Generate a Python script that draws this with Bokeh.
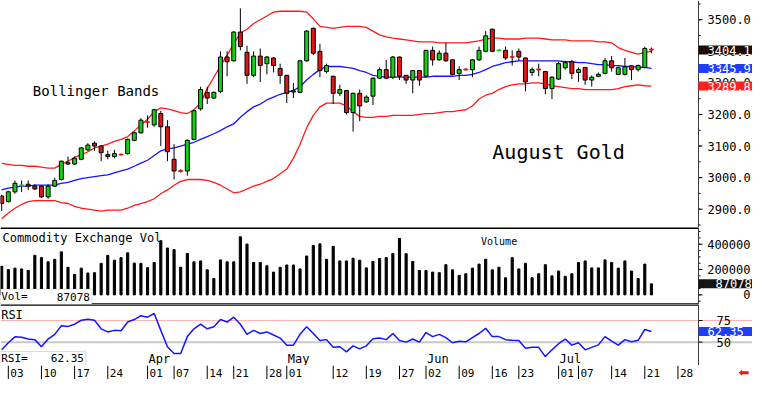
from bokeh.plotting import figure
from bokeh.models import Range1d, Label, BoxAnnotation, Span, ColumnDataSource
from bokeh.layouts import column
from bokeh.embed import file_html
from bokeh.resources import INLINE
from bokeh.core.properties import value

FONT = "DejaVu Sans Mono"
GREEN = "#12d012"
RED = "#e01414"
BAND_RED = "#ff1a1a"
BLUE = "#1414ff"

# trading-day index: -1 = Feb 28, 0 = Mar 03 ... 97 = Jul 22
day = list(range(-1, 98))

opens = [2942, 2924, 2955, 2974, 2979, 2973, 2973, 2939, 2973, 2994,
         3043, 3043, 3058, 3088, 3109, 3100, 3073, 3067, 3074, 3076,
         3118, 3142, 3177, 3167, 3203, 3161, 3058, 3022, 3021, 3121,
         3218, 3270, 3252, 3273, 3382, 3370, 3461, 3397, 3324, 3385,
         3361, 3379, 3346, 3324, 3271, 3270, 3370, 3473, 3400, 3336,
         3321, 3267, 3276, 3206, 3267, 3240, 3258, 3315, 3342, 3318,
         3382, 3324, 3309, 3339, 3321, 3403, 3373, 3394, 3373, 3330,
         3344, 3342, 3373, 3400, 3470, 3402, 3403, 3383, 3400, 3379,
         3333, 3344, 3336, 3282, 3312, 3348, 3367, 3333, 3349, 3309,
         3321, 3330, 3370, 3327, 3327, 3354, 3342, 3349, 3407]
highs = [2945, 2958, 2991, 2991, 2991, 2979, 2976, 2979, 3000, 3054,
         3067, 3067, 3097, 3109, 3115, 3102, 3085, 3088, 3076, 3124,
         3146, 3188, 3197, 3218, 3212, 3182, 3106, 3026, 3121, 3215,
         3288, 3288, 3273, 3400, 3400, 3464, 3536, 3418, 3400, 3409,
         3385, 3382, 3361, 3325, 3300, 3373, 3467, 3475, 3424, 3361,
         3323, 3294, 3278, 3269, 3279, 3261, 3318, 3349, 3373, 3385,
         3383, 3325, 3341, 3340, 3405, 3415, 3403, 3427, 3374, 3352,
         3345, 3376, 3415, 3464, 3472, 3406, 3415, 3403, 3409, 3380,
         3349, 3361, 3338, 3321, 3367, 3370, 3373, 3349, 3350, 3324,
         3333, 3379, 3385, 3352, 3379, 3355, 3358, 3415, 3412]
lows = [2894, 2921, 2949, 2955, 2961, 2961, 2936, 2933, 2970, 2991,
        3040, 3040, 3055, 3085, 3085, 3052, 3058, 3061, 3070, 3073,
        3115, 3139, 3158, 3161, 3100, 3052, 2994, 3016, 3006, 3118,
        3212, 3233, 3249, 3267, 3321, 3367, 3403, 3297, 3318, 3303,
        3327, 3333, 3297, 3236, 3252, 3267, 3367, 3388, 3318, 3330,
        3233, 3258, 3200, 3146, 3179, 3237, 3230, 3312, 3312, 3312,
        3309, 3297, 3267, 3291, 3318, 3355, 3370, 3367, 3324, 3309,
        3340, 3318, 3370, 3397, 3398, 3400, 3373, 3355, 3370, 3273,
        3321, 3321, 3264, 3249, 3309, 3342, 3312, 3303, 3294, 3288,
        3318, 3327, 3336, 3324, 3324, 3309, 3336, 3346, 3394]
closes = [2918, 2955, 2982, 2977, 2973, 2964, 2939, 2973, 2991, 3052,
          3047, 3061, 3094, 3103, 3100, 3079, 3067, 3076, 3072, 3121,
          3142, 3182, 3175, 3215, 3161, 3082, 3021, 3019, 3118, 3212,
          3279, 3252, 3270, 3382, 3367, 3461, 3415, 3324, 3385, 3355,
          3382, 3355, 3324, 3267, 3275, 3370, 3464, 3394, 3339, 3355,
          3267, 3279, 3206, 3267, 3227, 3255, 3315, 3342, 3315, 3382,
          3321, 3309, 3339, 3309, 3403, 3373, 3394, 3370, 3327, 3342,
          3341, 3373, 3403, 3449, 3400, 3404, 3379, 3381, 3382, 3303,
          3342, 3341, 3282, 3318, 3361, 3364, 3330, 3342, 3309, 3318,
          3327, 3370, 3348, 3348, 3351, 3342, 3355, 3409, 3404.1]

bb_upper = [3045, 3042, 3039, 3039, 3036, 3036, 3033, 3030, 3030, 3042,
            3052, 3064, 3073, 3082, 3094, 3100, 3106, 3115, 3121, 3130,
            3148, 3167, 3185, 3209, 3221, 3218, 3212, 3206, 3203, 3215,
            3236, 3282, 3318, 3354, 3388, 3424, 3458, 3470, 3488, 3500,
            3512, 3524, 3527, 3527, 3527, 3527, 3524, 3503, 3479, 3476,
            3473, 3476, 3479, 3479, 3479, 3476, 3464, 3452, 3446, 3442,
            3439, 3436, 3433, 3430, 3430, 3430, 3427, 3427, 3427, 3427,
            3427, 3430, 3433, 3439, 3442, 3442, 3439, 3439, 3439, 3442,
            3442, 3442, 3439, 3436, 3436, 3436, 3433, 3433, 3433, 3433,
            3430, 3430, 3427, 3412, 3403, 3397, 3391, 3397, 3400]
bb_mid = [2961, 2967, 2970, 2973, 2973, 2976, 2976, 2976, 2976, 2982,
          2985, 2991, 2997, 3000, 3003, 3006, 3009, 3015, 3021, 3027,
          3036, 3046, 3055, 3070, 3085, 3091, 3094, 3100, 3106, 3112,
          3121, 3130, 3139, 3149, 3161, 3170, 3191, 3209, 3224, 3233,
          3246, 3255, 3264, 3270, 3276, 3288, 3309, 3327, 3342, 3352,
          3352, 3352, 3349, 3346, 3339, 3333, 3324, 3321, 3318, 3318,
          3318, 3318, 3318, 3318, 3318, 3321, 3321, 3321, 3321, 3324,
          3324, 3327, 3333, 3342, 3352, 3358, 3364, 3367, 3370, 3370,
          3370, 3370, 3370, 3370, 3370, 3367, 3367, 3364, 3364, 3361,
          3358, 3358, 3355, 3355, 3352, 3352, 3349, 3349, 3345.9]
bb_lower = [2870, 2888, 2903, 2915, 2924, 2927, 2927, 2927, 2927, 2921,
            2918, 2909, 2903, 2900, 2897, 2894, 2897, 2897, 2897, 2903,
            2912, 2918, 2924, 2933, 2949, 2961, 2976, 2988, 2994, 2994,
            2994, 2991, 2985, 2976, 2964, 2952, 2955, 2964, 2973, 2979,
            2988, 2997, 3012, 3027, 3061, 3106, 3158, 3197, 3224, 3236,
            3236, 3236, 3227, 3209, 3194, 3191, 3191, 3194, 3194, 3197,
            3197, 3197, 3197, 3200, 3203, 3203, 3206, 3209, 3209, 3212,
            3215, 3227, 3249, 3261, 3267, 3279, 3288, 3294, 3297, 3297,
            3300, 3300, 3297, 3291, 3288, 3285, 3282, 3282, 3279, 3279,
            3279, 3279, 3279, 3282, 3288, 3291, 3294, 3291, 3289.8]

volume = [226000, 200000, 211000, 205000, 193000, 312000, 294000, 261000, 281000, 340000,
          218000, 162000, 211000, 173000, 175000, 249000, 312000, 274000, 294000, 332000,
          251000, 249000, 215000, 256000, 428000, 370000, 357000, 218000, 327000, 261000,
          268000, 198000, 129000, 276000, 261000, 261000, 459000, 401000, 256000, 256000,
          230000, 180000, 218000, 236000, 236000, 205000, 307000, 390000, 403000, 281000,
          383000, 268000, 268000, 289000, 274000, 213000, 264000, 287000, 294000, 327000,
          446000, 325000, 264000, 193000, 193000, 180000, 175000, 238000, 198000, 154000,
          167000, 211000, 243000, 281000, 198000, 218000, 135000, 294000, 205000, 249000,
          135000, 167000, 238000, 150000, 188000, 147000, 167000, 256000, 268000, 213000,
          213000, 276000, 256000, 211000, 268000, 188000, 129000, 243000, 87078]

rsi = [41.1, 49.3, 56.1, 55.7, 53.6, 52.9, 44.7, 53.6, 59.0, 68.9,
       68.2, 70.7, 75.3, 76.4, 75.3, 65.4, 61.8, 63.6, 63.2, 73.2,
       76.1, 80.6, 78.8, 83.1, 63.6, 44.7, 36.9, 36.9, 56.4, 65.4,
       70.7, 65.4, 67.8, 76.1, 73.2, 78.8, 70.7, 59.0, 63.6, 60.0,
       61.8, 58.2, 54.7, 46.5, 46.5, 59.0, 67.8, 60.0, 51.8, 52.9,
       44.0, 44.7, 38.7, 45.7, 42.2, 45.7, 54.0, 54.7, 52.9, 60.0,
       51.8, 50.0, 53.6, 50.0, 61.1, 56.4, 59.0, 55.3, 49.3, 51.1,
       50.4, 55.3, 60.0, 66.0, 56.4, 56.4, 52.9, 52.1, 51.8, 42.9,
       44.0, 44.0, 33.3, 41.1, 48.2, 53.6, 46.5, 49.3, 41.1, 44.0,
       46.8, 56.4, 51.1, 46.5, 52.9, 50.4, 52.1, 64.6, 62.35]

tick_days = [0, 5, 10, 15, 21, 25, 30, 34, 39, 42, 49, 54, 59, 63, 68, 73, 77, 83, 86, 91, 96, 101]
tick_labels = ["03", "10", "17", "24", "01", "07", "14", "21", "28", "01", "12", "19",
               "27", "02", "09", "16", "23", "01", "07", "14", "21", "28"]
month_days = [21, 42, 63, 83]
month_labels = ["Apr", "May", "Jun", "Jul"]

price_ticks = [2900, 3000, 3100, 3200, 3300, 3400, 3500]
price_labels = ["2900.0", "3000.0", "3100.0", "3200.0", "3300.0", "3400.0", "3500.0"]
vol_ticks = [0, 200000, 400000]
vol_labels = ["0", "200000", "400000"]
rsi_ticks = [50, 75]
rsi_labels = ["50", "75"]

last_close, last_mid, last_lower = 3404.1, 3345.9, 3289.8
last_vol, last_rsi = 87078, 62.35

# ---------------------------------------------------------------- layout
W = 752
FRAME_W = 698                      # plotting area; right 54 px hold the scale
X0, X1 = -1.18, 104.1              # x range of the plotting area (trading days)
PX = (X1 - X0) / FRAME_W           # data units per pixel
X2 = X0 + PX * W                   # right edge of the figure
PRICE_LO, PRICE_HI = 2842, 3561
VOL_LO, VOL_HI = -76000, 532000
RSI_LO, RSI_HI = 23.0, 93.5
xr = Range1d(X0, X2)


def panel(h, lo, hi):
    f = figure(width=W, height=h, x_range=xr, y_range=Range1d(lo, hi),
               output_backend="svg", toolbar_location=None,
               min_border_left=0, min_border_right=0, min_border_top=0,
               min_border_bottom=0, x_axis_location=None, y_axis_location=None)
    f.grid.visible = False
    f.outline_line_color = None
    f.background_fill_color = "white"
    f.border_fill_color = "white"
    return f


def scale(f, ticks, labels, minor, offset, align="left"):
    f.add_layout(Span(location=X1, dimension="height", line_color="#3a3a3a", line_width=1))
    f.segment(x0=[X1] * len(ticks), y0=ticks, x1=[X1 + 4 * PX] * len(ticks), y1=ticks,
              line_color="black", line_width=1)
    if minor:
        f.segment(x0=[X1] * len(minor), y0=minor, x1=[X1 + 2 * PX] * len(minor), y1=minor,
                  line_color="black", line_width=1)
    x = X1 + offset * PX if align == "left" else X2 - offset * PX
    f.text(x=[x] * len(ticks), y=ticks, text=labels, text_align=align,
           text_baseline="middle", text_font=value(FONT), text_font_size="12px",
           text_color="black")


def tag(f, y, text, bg, left=9, right=2):
    f.add_layout(Label(x=X1, y=y, text=text, text_color="white",
                       text_font=FONT, text_font_size="12px", text_baseline="middle",
                       text_align="left", background_fill_color=bg,
                       background_fill_alpha=1.0,
                       padding=dict(left=left, right=right, top=0, bottom=0), level="overlay"))


def txt(f, x, y, text, size="12px", align="left", baseline="middle", color="black", level="overlay"):
    f.add_layout(Label(x=x, y=y, text=text, text_font=FONT, text_font_size=size,
                       text_align=align, text_baseline=baseline, text_color=color, level=level))


def hline(f, y, width):
    f.segment(x0=[X0], y0=[y], x1=[X1], y1=[y], line_color="black", line_width=width)


# ---------------------------------------------------------------- price panel
p1 = panel(227, PRICE_LO, PRICE_HI)
scale(p1, price_ticks, price_labels, list(range(2850, 3561, 50)), 9)

p1.line(day, bb_upper, line_color=BAND_RED, line_width=1.3)
p1.line(day, bb_lower, line_color=BAND_RED, line_width=1.3)
p1.line(day, bb_mid, line_color=BLUE, line_width=1.3)

fill = [GREEN if c >= o else RED for o, c in zip(opens, closes)]
edge = [col if abs(c - o) < 4 else "black" for o, c, col in zip(opens, closes, fill)]
src = ColumnDataSource(dict(day=day, high=highs, low=lows,
                            top=[max(o, c) for o, c in zip(opens, closes)],
                            bottom=[min(o, c) for o, c in zip(opens, closes)],
                            fill=fill, edge=edge))
p1.segment("day", "high", "day", "low", source=src, line_color="black", line_width=1)
p1.vbar(x="day", top="top", bottom="bottom", width=0.6, fill_color="fill",
        line_color="edge", line_width=1, source=src)

txt(p1, 3.7, 3273, "Bollinger Bands", size="14px")
txt(p1, 73, 3082, "August Gold", size="20px")
tag(p1, last_close, "3404.1", "#1c0c04")
tag(p1, last_mid, "3345.9", "#1f3cff")
tag(p1, last_lower, "3289.8", "#ff2020")

# ---------------------------------------------------------------- volume panel
p2 = panel(77, VOL_LO, VOL_HI)
hline(p2, VOL_HI, 3)
hline(p2, VOL_LO, 2.5)
scale(p2, vol_ticks, vol_labels, list(range(-50000, 532000, 50000)), 2, align="right")
p2.vbar(x=day, top=volume, bottom=0, width=0.32, color="black")
txt(p2, X0 + 0.3, VOL_HI - 3 * 7900, "Commodity Exchange Vol", baseline="top")
txt(p2, 71.3, 418000, "Volume", size="10px")
p2.add_layout(BoxAnnotation(left=X0, right=12.6, bottom=VOL_LO, top=45600,
                            fill_color="white", fill_alpha=1.0, line_color="#8c8c8c",
                            line_width=1, level="annotation"))
txt(p2, X0 + 0.1, -14000, "Vol=", size="11px")
txt(p2, 12.3, -14000, "87078", size="11px", align="right")
tag(p2, last_vol, "87078", "#141414", left=17, right=2)

# ---------------------------------------------------------------- RSI panel
p3 = panel(61, RSI_LO, RSI_HI)
hline(p3, RSI_HI, 2.5)
p3.add_layout(Span(location=75, dimension="width", line_color="#ffb4b4", line_width=1, level="underlay"))
p3.add_layout(Span(location=50, dimension="width", line_color="#c8c8c8", line_width=2, level="underlay"))
scale(p3, rsi_ticks, rsi_labels, [], 18)
p3.line(day, rsi, line_color=BLUE, line_width=1.5)
txt(p3, X0 + 0.1, RSI_HI - 3.5, "RSI", baseline="top")
p3.text(x=month_days, y=[RSI_LO] * len(month_days), text=month_labels, x_offset=1,
        text_baseline="bottom", text_align="left", text_font=value(FONT),
        text_font_size="12px", text_color="black")
p3.add_layout(BoxAnnotation(left=X0, right=11.7, bottom=RSI_LO, top=39.2,
                            fill_color="white", fill_alpha=1.0, line_color="#8c8c8c",
                            line_width=1, level="annotation"))
txt(p3, X0 + 0.1, 31.6, "RSI=", size="11px")
txt(p3, 11.4, 31.6, "62.35", size="11px", align="right")
tag(p3, last_rsi, "62.35", "#1f3cff", left=9, right=9)

# ---------------------------------------------------------------- date row
p4 = panel(14, 0, 1)
p4.segment(x0=tick_days, y0=0, x1=tick_days, y1=1, line_color="black", line_width=1)
p4.text(x=tick_days, y=0.5, text=tick_labels, x_offset=2, text_baseline="middle",
        text_align="left", text_font=value(FONT), text_font_size="11px", text_color="black")
p4.add_layout(Label(x=X2, y=0.5, x_offset=-3, text="\u2b05", text_color="#ff1010",
                    text_font="DejaVu Sans", text_font_size="13px",
                    text_align="right", text_baseline="middle", level="overlay"))

layout = column(p1, p2, p3, p4, spacing=0)
open("out.html", "w").write(file_html(layout, INLINE))
